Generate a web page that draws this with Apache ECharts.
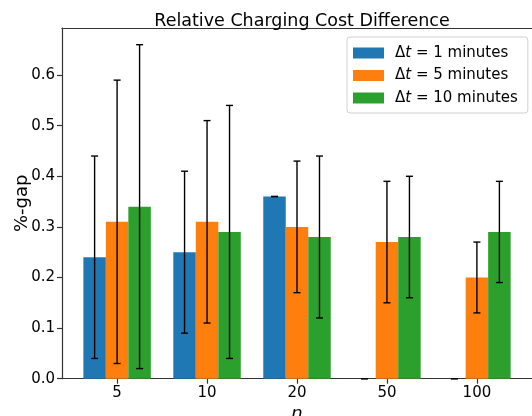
<!DOCTYPE html>
<html><head><meta charset="utf-8">
<script src="https://cdn.jsdelivr.net/npm/echarts@6/dist/echarts.min.js"></script>
<style>html,body{margin:0;padding:0;background:#fff}#c{width:532px;height:416px}</style>
</head><body><div id="c"></div>
<script>
var categories = ['5', '10', '20', '50', '100'];
var seriesNames = ['\u0394t = 1 minutes', '\u0394t = 5 minutes', '\u0394t = 10 minutes'];
var dt1Mean = [0.24, 0.25, 0.36, 0.0, 0.0];
var dt1Low  = [0.04, 0.09, 0.36, 0.0, 0.0];
var dt1High = [0.44, 0.41, 0.36, 0.0, 0.0];
var dt5Mean = [0.31, 0.31, 0.30, 0.27, 0.20];
var dt5Low  = [0.03, 0.11, 0.17, 0.15, 0.13];
var dt5High = [0.59, 0.51, 0.43, 0.39, 0.27];
var dt10Mean = [0.34, 0.29, 0.28, 0.28, 0.29];
var dt10Low  = [0.02, 0.04, 0.12, 0.16, 0.19];
var dt10High = [0.66, 0.54, 0.44, 0.40, 0.39];
var yTicks = [0, 0.1, 0.2, 0.3, 0.4, 0.5, 0.6];

var colors = ['#1f77b4', '#ff7f0e', '#2ca02c'];
var means = [dt1Mean, dt5Mean, dt10Mean];
var lows = [dt1Low, dt5Low, dt10Low];
var highs = [dt1High, dt5High, dt10High];
var barW = 0.25;
var FONT = 'DejaVu Sans';

function makeSeries(k) {
  var offset = (k - 1) * barW;
  var data = categories.map(function (c, i) {
    return [i + offset, means[k][i], lows[k][i], highs[k][i]];
  });
  return {
    type: 'custom',
    name: seriesNames[k],
    itemStyle: { color: colors[k] },
    data: data,
    encode: { x: 0, y: [1, 2, 3] },
    clip: false,
    renderItem: function (params, api) {
      var x = api.value(0), v = api.value(1), lo = api.value(2), hi = api.value(3);
      var p0 = api.coord([x - barW / 2, 0]);
      var p1 = api.coord([x + barW / 2, v]);
      var pl = api.coord([x, lo]);
      var ph = api.coord([x, hi]);
      var cap = 3.5;
      var lineStyle = { stroke: '#000', lineWidth: 1.4 };
      return {
        type: 'group',
        children: [
          { type: 'rect', shape: { x: p0[0], y: p1[1], width: p1[0] - p0[0], height: p0[1] - p1[1] },
            style: { fill: colors[k] } },
          { type: 'line', shape: { x1: pl[0], y1: pl[1], x2: ph[0], y2: ph[1] }, style: lineStyle, z2: 10 },
          { type: 'line', shape: { x1: pl[0] - cap, y1: pl[1], x2: pl[0] + cap, y2: pl[1] }, style: lineStyle, z2: 10 },
          { type: 'line', shape: { x1: ph[0] - cap, y1: ph[1], x2: ph[0] + cap, y2: ph[1] }, style: lineStyle, z2: 10 }
        ]
      };
    }
  };
}

var chart = echarts.init(document.getElementById('c'), null, { renderer: 'canvas' });
var axisLineStyle = { color: '#333', width: 1.2 };
chart.setOption({
  animation: false,
  textStyle: { fontFamily: FONT },
  title: {
    text: 'Relative Charging Cost Difference',
    left: 297, textAlign: 'center', top: 7,
    textStyle: { fontFamily: FONT, fontSize: 17.5, fontWeight: 'normal', color: '#000' }
  },
  legend: {
    data: seriesNames.map(function (n) { return { name: n, icon: 'rect' }; }),
    orient: 'vertical',
    left: 347, top: 37,
    padding: [8, 10, 7, 6],
    itemWidth: 31, itemHeight: 11, itemGap: 6.5,
    borderColor: '#d0d0d0', borderWidth: 1, borderRadius: 3,
    backgroundColor: 'rgba(255,255,255,0.8)',
    formatter: function (name) { return name.replace('\u0394t', '\u0394{it|t}'); },
    textStyle: {
      fontFamily: FONT, fontSize: 15, color: '#000', lineHeight: 16, padding: [0, 0, 0, 6],
      rich: { it: { fontFamily: FONT, fontSize: 15, fontStyle: 'italic', color: '#000' } }
    }
  },
  grid: { left: 62, right: 0, top: 28, bottom: 37.3, containLabel: false, outerBoundsMode: 'none' },
  xAxis: [{
    type: 'value', min: -0.6125, max: 4.6125,
    name: 'n', nameLocation: 'middle', nameGap: 27, nameMoveOverlap: false,
    nameTextStyle: { fontFamily: FONT, fontSize: 18, fontStyle: 'italic', color: '#000' },
    axisLine: { show: true, onZero: false, lineStyle: axisLineStyle },
    axisTick: { show: true, length: 5, lineStyle: axisLineStyle, customValues: [0, 1, 2, 3, 4] },
    axisLabel: { customValues: [0, 1, 2, 3, 4], margin: 7, fontFamily: FONT, fontSize: 15, color: '#000',
      formatter: function (v) { return categories[Math.round(v)]; } },
    splitLine: { show: false }
  }, {
    type: 'value', position: 'top', min: -0.6125, max: 4.6125,
    axisLine: { show: true, onZero: false, lineStyle: axisLineStyle },
    axisTick: { show: false }, axisLabel: { show: false }, splitLine: { show: false }
  }],
  yAxis: {
    type: 'value', min: 0, max: 0.693,
    name: '%-gap', nameLocation: 'middle', nameGap: 31, nameMoveOverlap: false,
    nameTextStyle: { fontFamily: FONT, fontSize: 18, color: '#000' },
    axisLine: { show: true, onZero: false, lineStyle: axisLineStyle },
    axisTick: { show: true, length: 5, lineStyle: axisLineStyle, customValues: yTicks },
    axisLabel: { customValues: yTicks, margin: 7, fontFamily: FONT, fontSize: 15, color: '#000',
      formatter: function (v) { return v.toFixed(1); } },
    splitLine: { show: false }
  },
  series: [makeSeries(0), makeSeries(1), makeSeries(2)]
});
</script>
</body></html>
